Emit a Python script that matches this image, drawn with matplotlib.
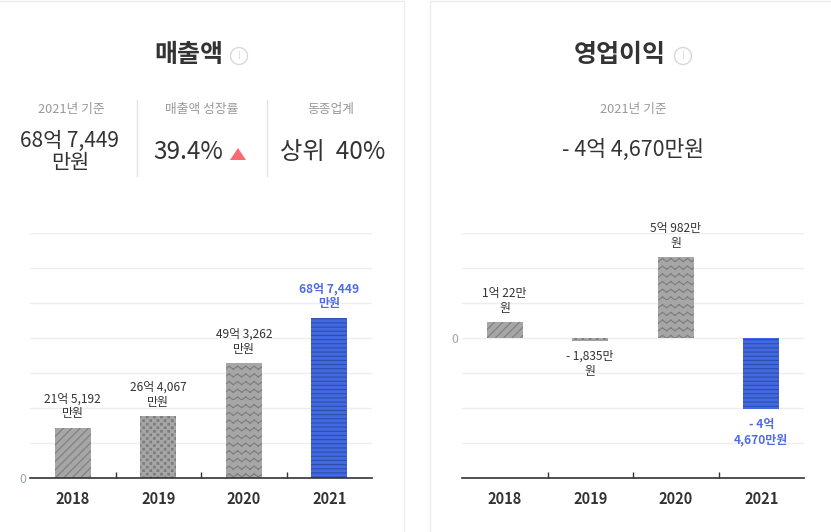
import matplotlib
matplotlib.use('Agg')
import matplotlib.pyplot as plt
import numpy as np
from matplotlib import hatch as mhatch
from matplotlib.path import Path as MPath
from matplotlib.patches import Polygon, Circle

plt.rcParams['font.family'] = ['Noto Sans CJK KR', 'DejaVu Sans']

W, H = 831, 532

# values in units of 만원
years = ['2018', '2019', '2020', '2021']
sales = [215192, 264067, 493262, 687449]
profit = [10022, -1835, 50982, -44670]
sales_labels = ['21억 5,192\n만원', '26억 4,067\n만원', '49억 3,262\n만원', '68억 7,449\n만원']
profit_labels = ['1억 22만\n원', '- 1,835만\n원', '5억 982만\n원', '- 4억\n4,670만원']
sales_grid = [0, 150000, 300000, 450000, 600000, 750000, 900000, 1050000]
profit_grid = [-88000, -66000, -44000, -22000, 0, 22000, 44000, 66000]
hatches = ['////', 's', 'z', '----']


class ZigZagHatch(mhatch.HatchPatternBase):
    # separate two point segments, agg would fill a longer open path
    def __init__(self, hatch, density):
        self.rows = hatch.count('z') * 13
        self.cols = 24
        self.num_vertices = self.rows * self.cols * 2

    def set_vertices_and_codes(self, vertices, codes):
        i = 0
        amp = 0.03
        for r in range(self.rows):
            y = r / self.rows
            for c in range(self.cols):
                y0 = y + (amp if c % 2 else 0)
                y1 = y + (0 if c % 2 else amp)
                vertices[i] = (c / self.cols, y0)
                vertices[i + 1] = ((c + 1) / self.cols, y1)
                codes[i] = MPath.MOVETO
                codes[i + 1] = MPath.LINETO
                i += 2


class SquareDotHatch(mhatch.HatchPatternBase):
    # staggered small squares, 's' in the hatch string
    def __init__(self, hatch, density):
        self.rows = hatch.count('s') * 28
        self.cols = 14
        self.num_vertices = self.rows * self.cols * 5

    def set_vertices_and_codes(self, vertices, codes):
        i = 0
        side = 0.016
        for r in range(self.rows):
            shift = 0.5 / self.cols if r % 2 else 0
            for c in range(self.cols):
                x = c / self.cols + shift
                y = r / self.rows
                vertices[i:i + 5] = [(x, y), (x + side, y), (x + side, y + side), (x, y + side), (x, y)]
                codes[i:i + 5] = [MPath.MOVETO, MPath.LINETO, MPath.LINETO, MPath.LINETO, MPath.CLOSEPOLY]
                i += 5


mhatch._hatch_types.append(ZigZagHatch)
mhatch._hatch_types.append(SquareDotHatch)
plt.rcParams['hatch.linewidth'] = 0.8

fig = plt.figure(figsize=(W / 100, H / 100), dpi=100, facecolor='white')

# full figure layer in pixels, for the cards and the text above the charts
bg = fig.add_axes([0, 0, 1, 1])
bg.set_xlim(0, W)
bg.set_ylim(H, 0)
bg.axis('off')

card = '#ececec'
bg.plot([0, 404, 404], [1, 1, H], color=card, lw=1)
bg.plot([429.5, 429.5, W], [H, 1, 1], color=card, lw=1)


def info_icon(x, y):
    bg.add_patch(Circle((x, y), 8.5, fill=False, ec='#d8d8de', lw=1))
    bg.text(x, y, '!', ha='center', va='center', fontsize=7, color='#d8d8de')


dark = '#333333'
gray = '#999999'
bg.text(189, 55.5, '매출액', ha='center', va='center', fontsize=18, fontweight='bold', color=dark)
info_icon(239, 56)
bg.text(620, 55.5, '영업이익', ha='center', va='center', fontsize=18, fontweight='bold', color=dark)
info_icon(683, 56)

for x, s in [(71, '2021년 기준'), (202, '매출액 성장률'), (331, '동종업계'), (633, '2021년 기준')]:
    bg.text(x, 109, s, ha='center', va='center', fontsize=9.2, color=gray)
bg.text(70, 152, '68억 7,449\n만원', ha='center', va='center', fontsize=15, color=dark, linespacing=1.05)
bg.text(188, 152, '39.4%', ha='center', va='center', fontsize=17.5, color=dark)
bg.add_patch(Polygon([(230, 160), (246, 160), (238, 148)], closed=True, fc='#f96b73', ec='none'))
bg.text(333, 152, '상위  40%', ha='center', va='center', fontsize=17.5, color=dark)
bg.text(633, 150, '- 4억 4,670만원', ha='center', va='center', fontsize=15.5, color=dark)
bg.plot([136.5, 136.5], [100, 176], color='#e4e4e4', lw=1)
bg.plot([266.5, 266.5], [100, 176], color='#e4e4e4', lw=1)


def draw_chart(x0, x1, values, labels, grid, ylim):
    ax = fig.add_axes([x0 / W, (H - 478) / H, (x1 - x0) / W, 245 / H], facecolor='none')
    xs = np.arange(len(values))
    ax.set_xlim(-0.5, 3.5)
    ax.set_ylim(*ylim)
    ax.set_axisbelow(True)
    ax.yaxis.grid(True, color='#eeeeee', lw=1)
    for s in ['top', 'left', 'right']:
        ax.spines[s].set_visible(False)
    ax.spines['bottom'].set_color(dark)
    ax.spines['bottom'].set_linewidth(1.2)

    for i, v in enumerate(values):
        last = i == len(values) - 1
        ax.bar(xs[i], v, width=0.42, color='#4169e1' if last else '#a6a6a6',
               hatch=hatches[i], edgecolor='#2f4da8' if last else '#7d7d7d', lw=0)
        ax.annotate(labels[i], (xs[i], v), xytext=(0, 5.3 if v > 0 else -6.5), textcoords='offset points',
                    ha='center', va='bottom' if v > 0 else 'top', fontsize=8.6, linespacing=1.2,
                    color='#4f6be8' if last else dark, fontweight='bold' if last else 'normal')

    ax.set_xticks(xs, years, fontsize=10.5, fontweight='bold', color=dark)
    ax.tick_params(axis='x', length=0, pad=9)
    ax.set_xticks(xs[:-1] + 0.5, minor=True)
    ax.tick_params(axis='x', which='minor', direction='in', length=4.5, width=1, color=dark)
    ax.set_yticks(grid)
    ax.set_yticklabels(['0' if g == 0 else '' for g in grid], fontsize=8.8, color='#9aa5b1')
    ax.tick_params(axis='y', length=0, pad=3)
    return ax


draw_chart(30, 372, sales, sales_labels, sales_grid, (0, 1050000))
draw_chart(462, 804, profit, profit_labels, profit_grid, (-88000, 66000))

fig.savefig('out.png', dpi=100)
